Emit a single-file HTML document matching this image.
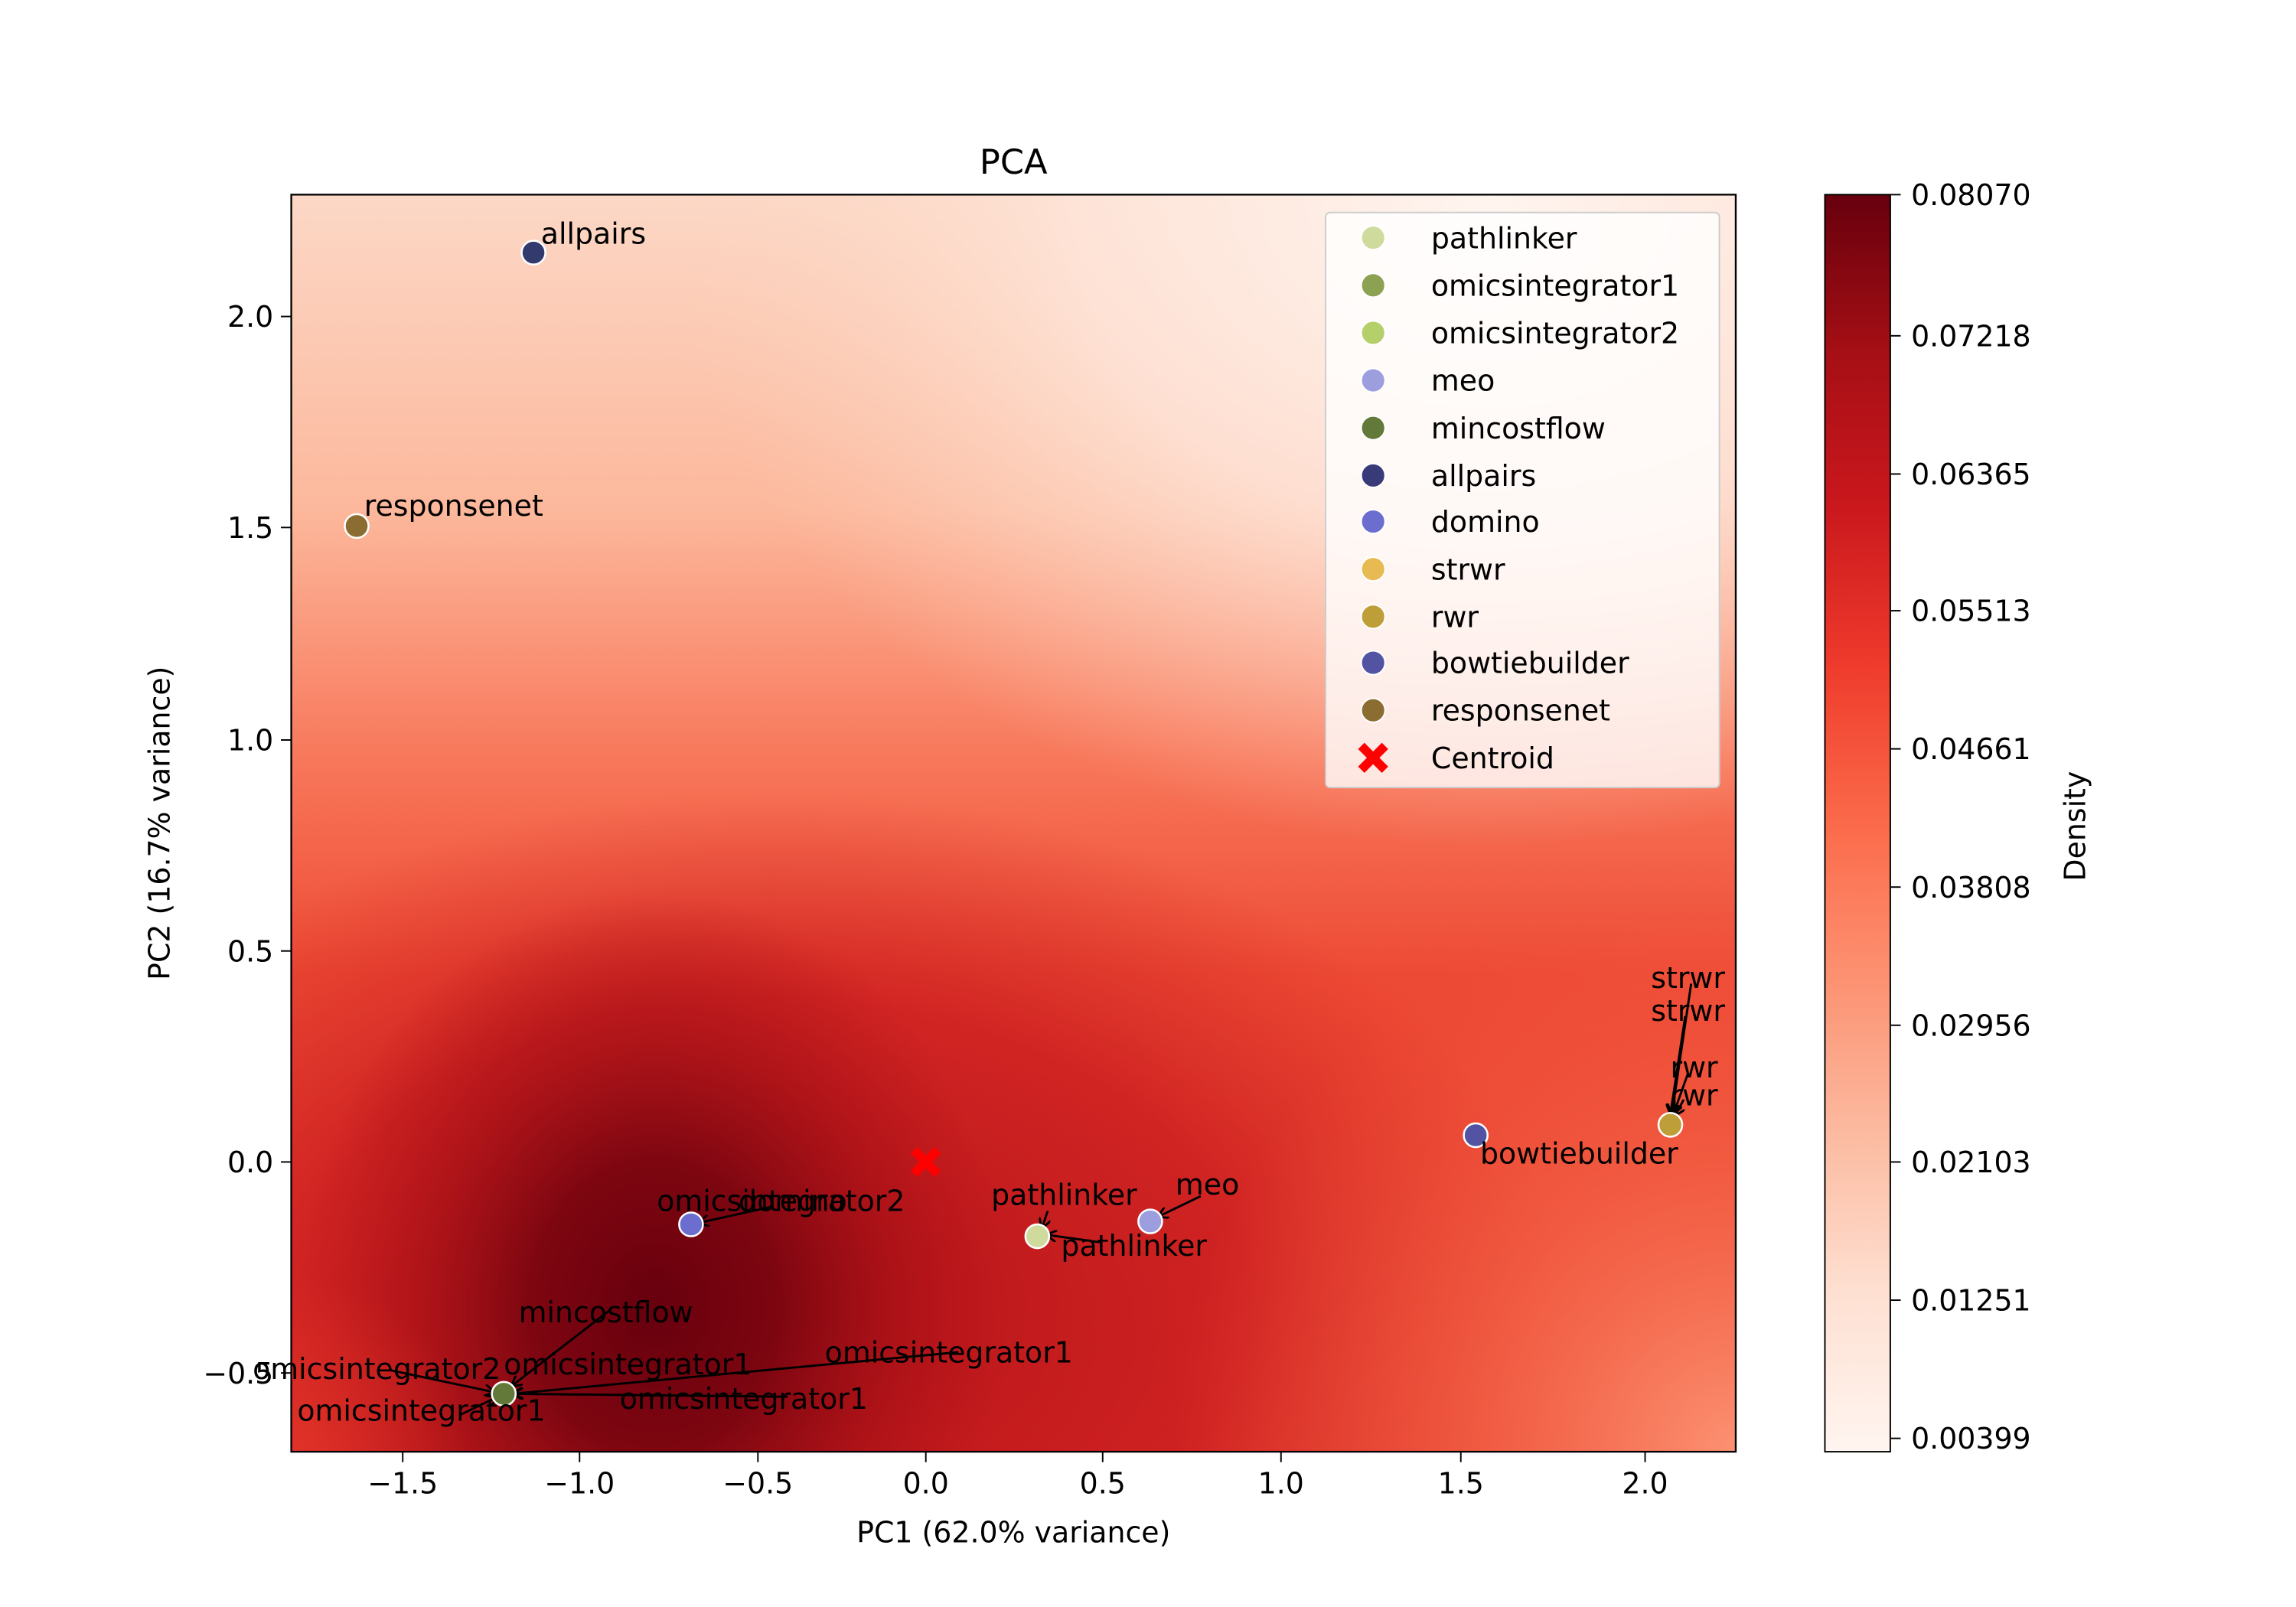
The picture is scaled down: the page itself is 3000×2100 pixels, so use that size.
<!DOCTYPE html>
<html><head><style>html,body{margin:0;padding:0;background:#fff}svg{display:block}text{font-family:"DejaVu Sans","Liberation Sans",sans-serif}</style></head><body>
<svg width="3000" height="2100" viewBox="0 0 1545 1081.5" xmlns="http://www.w3.org/2000/svg">
<defs>
<linearGradient id="base" x1="0" y1="0" x2="0" y2="1">
<stop offset="0" stop-color="#fcd8c6"/><stop offset="0.25" stop-color="#fcb89c"/><stop offset="0.45" stop-color="#f8775a"/><stop offset="0.62" stop-color="#ed4a35"/><stop offset="1" stop-color="#e2392b"/></linearGradient>
<radialGradient id="tr" cx="1000" cy="150" r="420" gradientUnits="userSpaceOnUse" gradientTransform="translate(1000 150) scale(1.3 1) translate(-1000 -150)">
<stop offset="0" stop-color="#fff5f0" stop-opacity="1"/><stop offset="0.5" stop-color="#fee7dc" stop-opacity="0.8"/><stop offset="1" stop-color="#fdd5c0" stop-opacity="0"/></radialGradient>
<radialGradient id="red" cx="520" cy="880" r="560" gradientUnits="userSpaceOnUse" gradientTransform="translate(520 880) scale(0.95 0.62) translate(-520 -880)">
<stop offset="0" stop-color="#b11218" stop-opacity="1"/><stop offset="0.6" stop-color="#c8191e" stop-opacity="0.75"/><stop offset="1" stop-color="#d42a22" stop-opacity="0"/></radialGradient>
<radialGradient id="dark" cx="440" cy="880" r="280" gradientUnits="userSpaceOnUse" gradientTransform="translate(440 880) scale(0.85 1) translate(-440 -880)">
<stop offset="0" stop-color="#67000d"/><stop offset="0.35" stop-color="#7a0510" stop-opacity="0.95"/><stop offset="0.7" stop-color="#a50f15" stop-opacity="0.6"/><stop offset="1" stop-color="#b11218" stop-opacity="0"/></radialGradient>
<radialGradient id="br" cx="1168" cy="977" r="380" gradientUnits="userSpaceOnUse">
<stop offset="0" stop-color="#fc9272" stop-opacity="1"/><stop offset="0.5" stop-color="#f86b4c" stop-opacity="0.6"/><stop offset="1" stop-color="#f6583e" stop-opacity="0"/></radialGradient>
<radialGradient id="bl" cx="196" cy="977" r="120" gradientUnits="userSpaceOnUse">
<stop offset="0" stop-color="#e83a2a" stop-opacity="0.6"/><stop offset="1" stop-color="#e83a2a" stop-opacity="0"/></radialGradient>
<linearGradient id="cb" x1="0" y1="1" x2="0" y2="0">
<stop offset="0" stop-color="#fff5f0"/><stop offset="0.125" stop-color="#fee0d2"/><stop offset="0.25" stop-color="#fcbba1"/><stop offset="0.375" stop-color="#fc9272"/><stop offset="0.5" stop-color="#fb6a4a"/><stop offset="0.625" stop-color="#ef3b2c"/><stop offset="0.75" stop-color="#cb181d"/><stop offset="0.875" stop-color="#a50f15"/><stop offset="1" stop-color="#67000d"/></linearGradient>
<clipPath id="ax"><rect x="196" y="131" width="972" height="846"/></clipPath>
<marker id="ah" markerWidth="8" markerHeight="8" refX="7" refY="4" orient="auto" markerUnits="userSpaceOnUse"><path d="M0,0 L7,4 L0,8" fill="none" stroke="#000" stroke-width="1.5"/></marker>
</defs>
<g clip-path="url(#ax)">
<rect x="196" y="131" width="972" height="846" fill="url(#base)"/>
<rect x="196" y="131" width="972" height="846" fill="url(#tr)"/>
<rect x="196" y="131" width="972" height="846" fill="url(#red)"/>
<rect x="196" y="131" width="972" height="846" fill="url(#dark)"/>
<rect x="196" y="131" width="972" height="846" fill="url(#br)"/>
<rect x="196" y="131" width="972" height="846" fill="url(#bl)"/>
</g>
<rect x="196" y="131" width="972" height="846" fill="none" stroke="#000" stroke-width="1.2"/>
<text x="682" y="117" font-size="23" text-anchor="middle">PCA</text>
<g font-size="19.5" text-anchor="middle">
<g stroke="#000" stroke-width="1"><line x1="271" y1="977" x2="271" y2="984"/><line x1="390" y1="977" x2="390" y2="984"/><line x1="510" y1="977" x2="510" y2="984"/><line x1="623" y1="977" x2="623" y2="984"/><line x1="742" y1="977" x2="742" y2="984"/><line x1="862" y1="977" x2="862" y2="984"/><line x1="983" y1="977" x2="983" y2="984"/><line x1="1107" y1="977" x2="1107" y2="984"/></g>
<text x="271" y="1005">−1.5</text><text x="390" y="1005">−1.0</text><text x="510" y="1005">−0.5</text><text x="623" y="1005">0.0</text><text x="742" y="1005">0.5</text><text x="862" y="1005">1.0</text><text x="983" y="1005">1.5</text><text x="1107" y="1005">2.0</text>
</g>
<g font-size="19.5" text-anchor="end">
<g stroke="#000" stroke-width="1"><line x1="189" y1="213" x2="196" y2="213"/><line x1="189" y1="355" x2="196" y2="355"/><line x1="189" y1="498" x2="196" y2="498"/><line x1="189" y1="640" x2="196" y2="640"/><line x1="189" y1="782" x2="196" y2="782"/><line x1="189" y1="924" x2="196" y2="924"/></g>
<text x="184" y="220">2.0</text><text x="184" y="362">1.5</text><text x="184" y="505">1.0</text><text x="184" y="647">0.5</text><text x="184" y="789">0.0</text><text x="184" y="931">−0.5</text>
</g>
<text x="682" y="1038" font-size="19.5" text-anchor="middle">PC1 (62.0% variance)</text>
<text transform="translate(114 554) rotate(-90)" font-size="19.5" text-anchor="middle">PC2 (16.7% variance)</text>
<g stroke="#000" stroke-width="1.5" fill="none" marker-end="url(#ah)">
<line x1="1138" y1="662" x2="1125" y2="750"/><line x1="1134" y1="684" x2="1124" y2="750"/><line x1="1136" y1="722" x2="1126" y2="750"/><line x1="1133" y1="740" x2="1127" y2="751"/>
<line x1="520" y1="812" x2="470" y2="823"/>
<line x1="705" y1="815" x2="701" y2="827"/><line x1="740" y1="836" x2="704" y2="831"/>
<line x1="808" y1="805" x2="779" y2="819"/>
<line x1="410" y1="882" x2="344" y2="933"/>
<line x1="645" y1="910" x2="345" y2="938"/>
<line x1="262" y1="922" x2="333" y2="937"/>
<line x1="310" y1="952" x2="335" y2="940"/>
<line x1="530" y1="940" x2="345" y2="938"/>
</g>
<g stroke="#fff" stroke-width="1.3">
<circle cx="359" cy="170" r="8" fill="#323a6e"/>
<circle cx="240" cy="354" r="8" fill="#8c6d31"/>
<circle cx="465" cy="824" r="8" fill="#6b6ecf"/>
<circle cx="698" cy="832" r="8" fill="#cedb9c"/>
<circle cx="774" cy="822" r="8" fill="#9c9ede"/>
<circle cx="339" cy="938" r="8" fill="#637939"/>
<circle cx="993" cy="764" r="8" fill="#5254a3"/>
<circle cx="1124" cy="757" r="8" fill="#bd9e39"/>
</g>
<g stroke="#ff0000" stroke-width="6"><line x1="615" y1="774" x2="631" y2="790"/><line x1="631" y1="774" x2="615" y2="790"/></g>
<g font-size="19.5">
<text x="364" y="164">allpairs</text>
<text x="245" y="347">responsenet</text>
<text x="1111" y="665">strwr</text><text x="1111" y="687">strwr</text>
<text x="1124" y="725">rwr</text><text x="1124" y="744">rwr</text>
<text x="996" y="783">bowtiebuilder</text>
<text x="442" y="815">omicsintegrator2</text><text x="497" y="815">domino</text>
<text x="667" y="811">pathlinker</text><text x="714" y="845">pathlinker</text>
<text x="791" y="804">meo</text>
<text x="349" y="890">mincostflow</text>
<text x="555" y="917">omicsintegrator1</text>
<text x="339" y="925">omicsintegrator1</text>
<text x="170" y="928">omicsintegrator2</text>
<text x="200" y="956">omicsintegrator1</text>
<text x="417" y="948">omicsintegrator1</text>
</g>
<rect x="892" y="143" width="265" height="387" rx="3" fill="#fff" fill-opacity="0.8" stroke="#ccc" stroke-width="1"/>
<g stroke="#fff" stroke-width="1">
<circle cx="924" cy="160" r="8" fill="#cedb9c"/><circle cx="924" cy="192" r="8" fill="#8ca252"/><circle cx="924" cy="224" r="8" fill="#b5cf6b"/><circle cx="924" cy="256" r="8" fill="#9c9ede"/><circle cx="924" cy="288" r="8" fill="#637939"/><circle cx="924" cy="320" r="8" fill="#393b79"/><circle cx="924" cy="351" r="8" fill="#6b6ecf"/><circle cx="924" cy="383" r="8" fill="#e7ba52"/><circle cx="924" cy="415" r="8" fill="#bd9e39"/><circle cx="924" cy="446" r="8" fill="#5254a3"/><circle cx="924" cy="478" r="8" fill="#8c6d31"/>
</g>
<g stroke="#ff0000" stroke-width="6"><line x1="916" y1="502" x2="932" y2="518"/><line x1="932" y1="502" x2="916" y2="518"/></g>
<g font-size="19.5">
<text x="963" y="167">pathlinker</text><text x="963" y="199">omicsintegrator1</text><text x="963" y="231">omicsintegrator2</text><text x="963" y="263">meo</text><text x="963" y="295">mincostflow</text><text x="963" y="327">allpairs</text><text x="963" y="358">domino</text><text x="963" y="390">strwr</text><text x="963" y="422">rwr</text><text x="963" y="453">bowtiebuilder</text><text x="963" y="485">responsenet</text><text x="963" y="517">Centroid</text>
</g>
<rect x="1228" y="131" width="44" height="846" fill="url(#cb)" stroke="#000" stroke-width="1"/>
<g stroke="#000" stroke-width="1">
<line x1="1272" y1="131" x2="1279" y2="131"/><line x1="1272" y1="226" x2="1279" y2="226"/><line x1="1272" y1="319" x2="1279" y2="319"/><line x1="1272" y1="411" x2="1279" y2="411"/><line x1="1272" y1="504" x2="1279" y2="504"/><line x1="1272" y1="597" x2="1279" y2="597"/><line x1="1272" y1="690" x2="1279" y2="690"/><line x1="1272" y1="782" x2="1279" y2="782"/><line x1="1272" y1="875" x2="1279" y2="875"/><line x1="1272" y1="968" x2="1279" y2="968"/>
</g>
<g font-size="19.5">
<text x="1286" y="138">0.08070</text><text x="1286" y="233">0.07218</text><text x="1286" y="326">0.06365</text><text x="1286" y="418">0.05513</text><text x="1286" y="511">0.04661</text><text x="1286" y="604">0.03808</text><text x="1286" y="697">0.02956</text><text x="1286" y="789">0.02103</text><text x="1286" y="882">0.01251</text><text x="1286" y="975">0.00399</text>
</g>
<text transform="translate(1403 556) rotate(-90)" font-size="19.5" text-anchor="middle">Density</text>
</svg>
</body></html>
